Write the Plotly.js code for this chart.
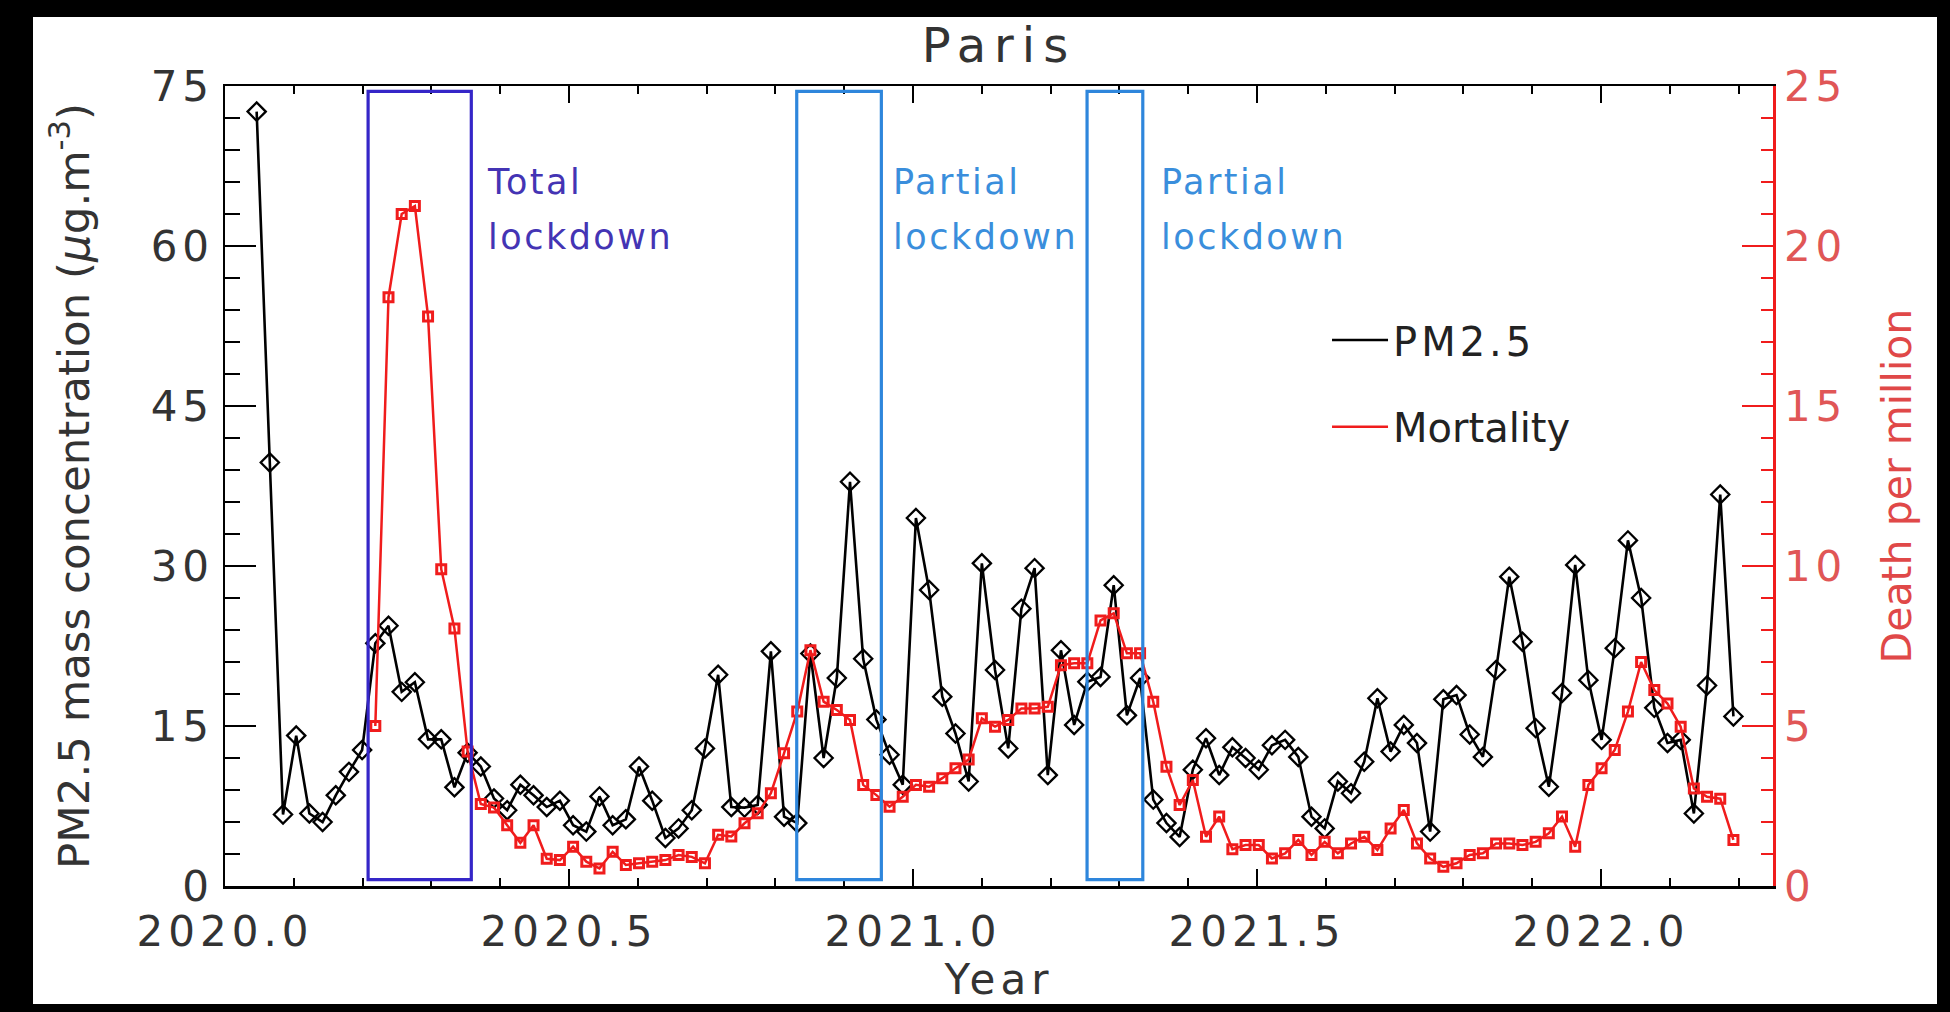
<!DOCTYPE html>
<html><head><meta charset="utf-8">
<script src="https://cdn.plot.ly/plotly-3.0.1.min.js"></script>
<style>
html,body{margin:0;padding:0;background:#000;width:1950px;height:1012px;overflow:hidden}
#frame{position:absolute;left:33px;top:17px;width:1904px;height:987px;background:#fff}
#chart{width:1904px;height:987px}
.xtick text,.ytick text,.y2tick text{letter-spacing:5px}
.gtitle{letter-spacing:8px}
.xtitle{letter-spacing:5px}
.annotation-text{letter-spacing:2.5px}
.legendtext{letter-spacing:4px}
</style></head><body><div id="frame"><div id="chart"></div></div>
<script>
// Weekly series (decimal year of first week, week length in years)
const firstWeek = 2020.046;
const weekLength = 7 / 365.25;

// PM2.5 weekly mean concentration (µg/m3)
const pm25 = [72.6, 39.7, 6.7, 14.1, 6.8, 6.0, 8.5, 10.7, 12.75, 22.75,
  24.4, 18.2, 19.1, 13.75, 13.75, 9.25, 12.5, 11.2, 8.2, 7.1,
  9.5, 8.5, 7.4, 8.0, 5.7, 5.1, 8.4, 5.7, 6.25, 11.2,
  8.0, 4.5, 5.4, 7.1, 12.9, 19.8, 7.4, 7.35, 7.6, 22.0,
  6.5, 5.9, 21.8, 12.0, 19.5, 37.9, 21.3, 15.6, 12.3, 9.5,
  34.5, 27.75, 17.75, 14.3, 9.8, 30.25, 20.25, 12.9, 26.0, 29.8,
  10.4, 22.1, 15.1, 19.15, 19.6, 28.2, 16.0, 19.5, 8.1, 5.9,
  4.6, 10.9, 13.85, 10.4, 13.0, 12.0, 10.9, 13.2, 13.7, 12.1,
  6.5, 5.4, 9.8, 8.7, 11.65, 17.6, 12.6, 15.1, 13.4, 5.1,
  17.5, 17.9, 14.2, 12.1, 20.25, 29.0, 22.9, 14.8, 9.3, 18.1,
  30.1, 19.3, 13.7, 22.3, 32.4, 27.0, 16.7, 13.4, 13.7, 6.8,
  18.8, 36.7, 15.9];

// Mortality (deaths per million), starts at week index 9
const mortalityFirstWeekIndex = 9;
const mortality = [5.0, 18.4, 21.0, 21.25, 17.8, 9.9, 8.05, 4.2, 2.56, 2.45,
  1.9, 1.35, 1.9, 0.85, 0.81, 1.23, 0.76, 0.55, 1.07, 0.66,
  0.71, 0.76, 0.81, 0.97, 0.91, 0.71, 1.6, 1.55, 1.96, 2.27,
  2.9, 4.15, 5.45, 7.37, 5.76, 5.5, 5.19, 3.16, 2.84, 2.48,
  2.79, 3.16, 3.1, 3.37, 3.68, 3.95, 5.24, 4.98, 5.19, 5.55,
  5.55, 5.6, 6.9, 6.96, 6.96, 8.3, 8.52, 7.27, 7.27, 5.76,
  3.73, 2.53, 3.31, 1.54, 2.17, 1.15, 1.28, 1.28, 0.86, 1.02,
  1.44, 0.97, 1.38, 1.02, 1.33, 1.54, 1.125, 1.8, 2.375, 1.33,
  0.86, 0.6, 0.71, 0.97, 1.02, 1.33, 1.33, 1.28, 1.38, 1.65,
  2.17, 1.23, 3.16, 3.68, 4.25, 5.45, 7.0, 6.125, 5.7, 4.98,
  3.05, 2.79, 2.73, 1.44];

// Lockdown periods (decimal years)
const lockdownLabels = ['Total lockdown', 'Partial lockdown', 'Partial lockdown'];
const lockdownStart = [2020.208, 2020.831, 2021.253];
const lockdownEnd = [2020.358, 2020.954, 2021.334];

const seriesNames = ['PM2.5', 'Mortality'];

const FONT = 'DejaVu Sans';
const pmX = pm25.map((_, i) => firstWeek + i * weekLength);
const mortX = mortality.map((_, i) => firstWeek + (mortalityFirstWeekIndex + i) * weekLength);

const RED = '#f01c1c';
const boxColors = ['#3526c8', '#2e86dc', '#2e86dc'];
const textColors = ['#4434b4', '#3a8edc', '#3a8edc'];
const labelShift = [14, 10, 16];

const traces = [
  {x: pmX, y: pm25, type: 'scatter', mode: 'lines', name: seriesNames[0],
   line: {color: '#000', width: 2.6}, legend: 'legend', hoverinfo: 'skip'},
  {x: pmX, y: pm25, type: 'scatter', mode: 'markers', showlegend: false, name: seriesNames[0],
   marker: {symbol: 'diamond-open', size: 14, color: '#000', line: {width: 2.3, color: '#000'}}},
  {x: mortX, y: mortality, type: 'scatter', mode: 'lines', name: seriesNames[1], yaxis: 'y2',
   line: {color: RED, width: 2.5}, legend: 'legend2', hoverinfo: 'skip'},
  {x: mortX, y: mortality, type: 'scatter', mode: 'markers', showlegend: false, name: seriesNames[1], yaxis: 'y2',
   marker: {symbol: 'square-open', size: 9, color: RED, line: {width: 3, color: RED}}}
];

const shapes = lockdownStart.map((s, k) => ({
  type: 'rect', xref: 'x', yref: 'y', x0: s, x1: lockdownEnd[k], y0: 0.6, y1: 74.5,
  line: {color: boxColors[k], width: 3.2}, fillcolor: 'rgba(0,0,0,0)', layer: 'above'
}));

const annotations = lockdownLabels.map((t, k) => ({
  text: t.split(' ').map(w => '<span style="font-size:35px">' + w + '</span>').join('<br>'),
  xref: 'x', yref: 'y', x: lockdownEnd[k], y: 63.4,
  xanchor: 'left', yanchor: 'middle', xshift: labelShift[k], align: 'left', showarrow: false,
  font: {family: FONT, size: 42, color: textColors[k]}
}));

const layout = {
  width: 1904, height: 987,
  margin: {l: 192, r: 164, t: 69, b: 118},
  paper_bgcolor: '#fff', plot_bgcolor: '#fff',
  font: {family: FONT, color: '#333'},
  title: {text: 'Paris', font: {family: FONT, size: 48, color: '#333'},
          x: 0.5, xref: 'paper', xanchor: 'center', y: 0.971, yref: 'container', yanchor: 'middle'},
  xaxis: {
    range: [2020, 2022.25], tickmode: 'linear', tick0: 2020, dtick: 0.5, tickformat: '.1f',
    ticks: 'inside', ticklen: 17, tickwidth: 2, tickcolor: '#000', ticklabelstandoff: 7,
    minor: {tickmode: 'linear', tick0: 2020, dtick: 0.1, ticks: 'inside', ticklen: 8, tickwidth: 2, tickcolor: '#000', showgrid: false},
    showline: true, linecolor: '#000', linewidth: 2.5, mirror: 'ticks',
    showgrid: false, zeroline: false,
    tickfont: {family: FONT, size: 42, color: '#333'},
    title: {text: 'Year', font: {family: FONT, size: 42, color: '#333'}, standoff: 19}
  },
  yaxis: {
    range: [0, 75], tickmode: 'linear', tick0: 0, dtick: 15,
    ticks: 'inside', ticklen: 31, tickwidth: 2, tickcolor: '#000',
    minor: {tickmode: 'linear', tick0: 0, dtick: 3, ticks: 'inside', ticklen: 15, tickwidth: 2, tickcolor: '#000', showgrid: false},
    showline: true, linecolor: '#000', linewidth: 2.5, mirror: false,
    showgrid: false, zeroline: false,
    tickfont: {family: FONT, size: 42, color: '#333'},
    title: {text: 'PM2.5 mass concentration (<i>μ</i>g.m<sup>-3</sup>)', font: {family: FONT, size: 43.5, color: '#333'}, standoff: 48}
  },
  yaxis2: {
    overlaying: 'y', side: 'right', anchor: 'x',
    range: [0, 25], tickmode: 'linear', tick0: 0, dtick: 5,
    ticks: 'inside', ticklen: 31, tickwidth: 2, tickcolor: RED,
    minor: {tickmode: 'linear', tick0: 0, dtick: 1, ticks: 'inside', ticklen: 12, tickwidth: 2, tickcolor: RED, showgrid: false},
    showline: true, linecolor: RED, linewidth: 2.5,
    showgrid: false, zeroline: false,
    tickfont: {family: FONT, size: 42, color: '#e05656'},
    title: {text: 'Death per million', font: {family: FONT, size: 41, color: '#e04848'}, standoff: 36}
  },
  legend: {x: 0.7119, xanchor: 'left', y: 0.6825, yanchor: 'middle', bgcolor: 'rgba(0,0,0,0)',
           borderwidth: 0, font: {family: FONT, size: 40, color: '#222'}, itemwidth: 56},
  legend2: {x: 0.7119, xanchor: 'left', y: 0.574, yanchor: 'middle', bgcolor: 'rgba(0,0,0,0)',
           borderwidth: 0, font: {family: FONT, size: 40, color: '#222'}, itemwidth: 56},
  shapes: shapes,
  annotations: annotations,
  showlegend: true
};

Plotly.newPlot('chart', traces, layout, {staticPlot: true, displayModeBar: false});
</script></body></html>
